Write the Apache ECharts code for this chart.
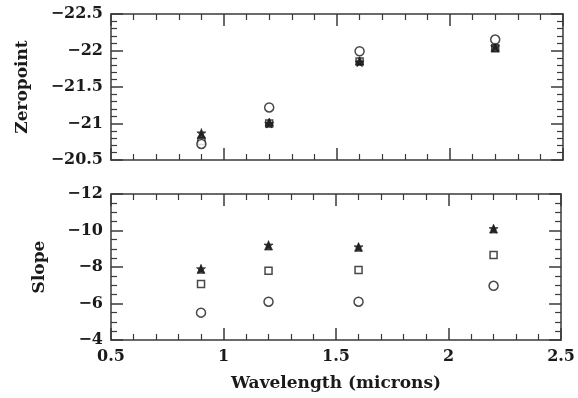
<!DOCTYPE html>
<html><head><meta charset="utf-8">
<script src="https://cdn.jsdelivr.net/npm/echarts@6/dist/echarts.min.js"></script>
<style>html,body{margin:0;padding:0;background:#fff}#c{width:578px;height:398px}</style>
</head><body><div id="c"></div>
<script>
const wavelengths = [0.9, 1.2, 1.6, 2.2];
const zpCircle   = [-20.72, -21.22, -21.99, -22.15];
const zpSquare   = [-20.76, -21.00, -21.85, -22.03];
const zpTriangle = [-20.85, -21.02, -21.86, -22.04];
const zpStar     = [-20.87, -21.00, -21.84, -22.05];
const slCircle   = [-5.5, -6.1, -6.1, -6.97];
const slSquare   = [-7.07, -7.8, -7.84, -8.66];
const slTriangle = [-7.87, -9.15, -9.08, -10.08];
const slStar     = [-7.9, -9.2, -9.1, -10.1];
const xLabelName = 'Wavelength (microns)';
const topName = 'Zeropoint';
const botName = 'Slope';

const FONT = 'DejaVu Serif';
const INK = '#1a1a1a';
const LINE = '#3a3a3a';
const star = 'path://M10,0L12.35,6.76L19.51,6.91L13.8,11.24L15.88,18.09L10,14L4.12,18.09L6.2,11.24L0.49,6.91L7.65,6.76Z';
const fmt = v => String(v).replace('-', '\u2212');

function pairs(ys){ return wavelengths.map((x,i)=>[x, ys[i]]); }

function xAx(grid, pos, labels){
  return {type:'value', gridIndex:grid, position:pos, min:0.5, max:2.5, interval:0.5,
    axisLine:{show:true, onZero:false, lineStyle:{color:LINE, width:1.5}},
    axisTick:{show:true, inside:true, length:12, lineStyle:{color:LINE, width:1.5}},
    minorTick:{show:true, splitNumber:5, length:6, lineStyle:{color:LINE, width:1.2}},
    splitLine:{show:false},
    axisLabel:{show:labels, color:INK, fontFamily:FONT, fontWeight:'bold', fontSize:16, margin:9, formatter:fmt},
    name: labels ? xLabelName : '', nameLocation:'middle', nameGap:35,
    nameTextStyle:{color:INK, fontFamily:FONT, fontWeight:'bold', fontSize:17}};
}
function yAx(grid, pos, labels, min, max, interval, minorSplit, name){
  return {type:'value', gridIndex:grid, position:pos, min:min, max:max, interval:interval, inverse:true,
    axisLine:{show:true, onZero:false, lineStyle:{color:LINE, width:1.5}},
    axisTick:{show:true, inside:true, length:12, lineStyle:{color:LINE, width:1.5}},
    minorTick:{show:true, splitNumber:minorSplit, length:6, lineStyle:{color:LINE, width:1.2}},
    splitLine:{show:false},
    axisLabel:{show:labels, color:INK, fontFamily:FONT, fontWeight:'bold', fontSize:16, margin:8, formatter:fmt},
    name: labels ? name : '', nameLocation:'middle', nameGap: name==='Zeropoint' ? 80 : 63,
    nameTextStyle:{color:INK, fontFamily:FONT, fontWeight:'bold', fontSize:17}};
}
function ser(xi, yi, data, symbol, size, filled){
  return {type:'scatter', xAxisIndex:xi, yAxisIndex:yi, data:pairs(data), symbol:symbol, symbolSize:size,
    itemStyle: filled ? {color:INK, borderColor:INK, borderWidth:0.8} : {color:'#fff', borderColor:INK, borderWidth:1.5},
    silent:true, animation:false};
}

const chart = echarts.init(document.getElementById('c'), null, {renderer:'canvas'});
chart.setOption({
  animation:false,
  backgroundColor:'#fff',
  grid:[
    {left:111, right:15, top:14, height:146},
    {left:111, right:15, top:194, height:146}
  ],
  xAxis:[xAx(0,'bottom',false), xAx(0,'top',false), xAx(1,'bottom',true), xAx(1,'top',false)],
  yAxis:[
    yAx(0,'left',true,-22.5,-20.5,0.5,5,topName), yAx(0,'right',false,-22.5,-20.5,0.5,5,''),
    yAx(1,'left',true,-12,-4,2,4,botName), yAx(1,'right',false,-12,-4,2,4,'')
  ],
  series:[
    ser(0,0,zpSquare,'rect',7,false),
    ser(0,0,zpTriangle,'triangle',8,true),
    ser(0,0,zpStar,star,9,true),
    ser(0,0,zpCircle,'circle',9,false),
    ser(2,2,slCircle,'circle',9,false),
    ser(2,2,slSquare,'rect',7,false),
    ser(2,2,slTriangle,'triangle',8,true),
    ser(2,2,slStar,star,9,true)
  ]
});
</script></body></html>
